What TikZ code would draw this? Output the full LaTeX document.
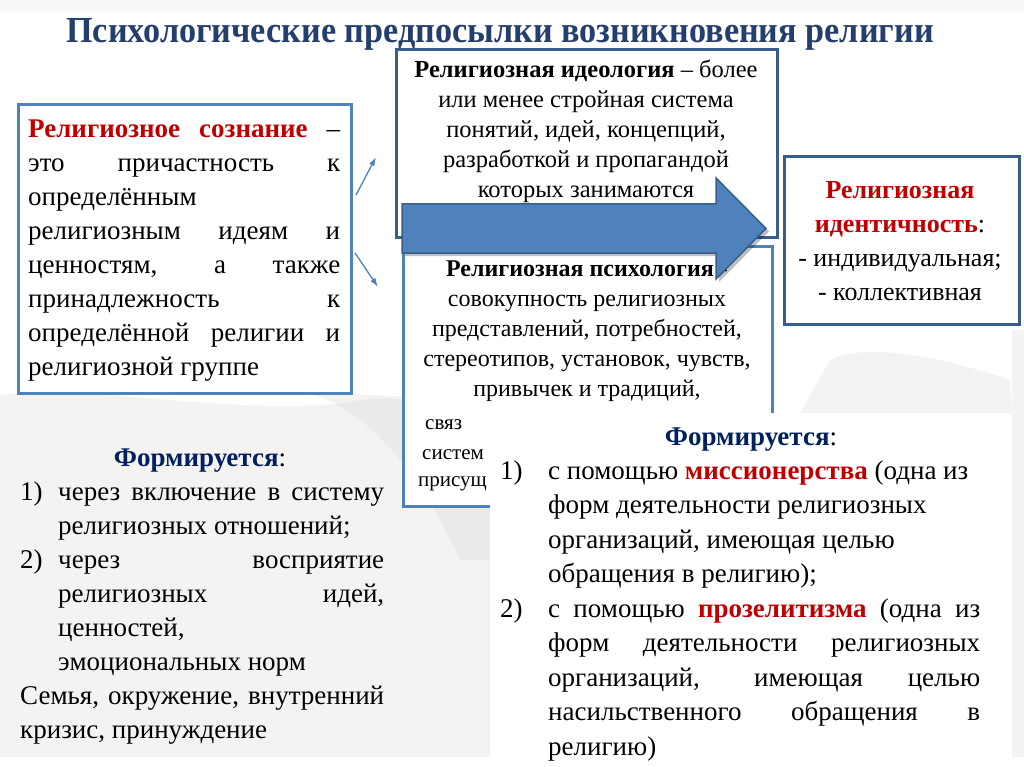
\documentclass[tikz,border=0pt]{standalone}
\usepackage{fontspec}
\setmainfont{Liberation Serif}
\usetikzlibrary{arrows.meta}
\definecolor{lblue}{RGB}{79,129,189}
\definecolor{dblue}{RGB}{56,93,138}
\definecolor{redt}{RGB}{192,0,0}
\definecolor{navy}{RGB}{0,32,96}
\definecolor{titlec}{RGB}{36,62,110}
\definecolor{bgtex}{RGB}{200,198,192}
\newcommand{\SL}[2]{\makebox[#1][s]{#2}}
\newcommand{\LL}[2]{\makebox[#1][l]{#2}}
\tikzset{
  lbox/.style={draw=lblue, line width=3pt, fill=white, inner sep=0, anchor=north west},
  dbox/.style={draw=dblue, line width=3pt, fill=white, inner sep=0, anchor=north west},
  txt/.style={inner sep=0, align=left, anchor=base west},
  ctxt/.style={inner sep=0, align=center, anchor=base},
  blob/.style={fill=bgtex, opacity=0.2},
  thin arrow/.style={draw=lblue, line width=1.3pt, -{Latex[length=9pt,width=6pt]}},
}
\begin{document}
\begin{tikzpicture}[x=1pt,y=-1pt]
\useasboundingbox (0,0) rectangle (1024,767);
\fill[white] (0,0) rectangle (1024,767);
% faint background texture
\fill[blob] (0,395) .. controls (120,385) and (260,420) .. (360,400) .. controls (430,390) and (480,430) .. (490,470) -- (490,757) -- (0,757) -- cycle;
\fill[blob] (300,392) .. controls (360,400) and (420,470) .. (460,560) -- (490,560) -- (490,400) -- cycle;
\fill[blob] (830,360) .. controls (860,345) and (920,350) .. (1010,380) -- (1012,413) -- (800,413) -- cycle;
\fill[blob] (1012,330) rectangle (1024,757);
\fill[bgtex, opacity=0.12] (0,0) rectangle (1024,12);
% title
\node[inner sep=0, text=titlec, font=\fontsize{36}{40}\selectfont\bfseries] (title) at (500,34) {\scalebox{0.95}[1.02]{Психологические предпосылки возникновения религии}};
% boxes
\node[lbox, minimum width=333pt, minimum height=289pt] (cons) at (17,103) {};
\node[dbox, minimum width=381pt, minimum height=188pt] (ideo) at (395,48) {};
\node[lbox, minimum width=369pt, minimum height=260pt] (psy) at (402,245) {};
\node[dbox, minimum width=235pt, minimum height=168pt] (ident) at (783,155) {};
% left box text (anchor = baseline of last line)
\node[txt, font=\fontsize{27}{34}\selectfont] (constxt) at (28,375) {%
\SL{312pt}{\textcolor{redt}{\textbf{Религиозное сознание}} –}\\
\SL{312pt}{это причастность к}\\
\LL{312pt}{определённым}\\
\SL{312pt}{религиозным идеям и}\\
\SL{312pt}{ценностям, а также}\\
\SL{312pt}{принадлежность к}\\
\SL{312pt}{определённой религии и}\\
\LL{312pt}{религиозной группе}};
% ideology text
\node[ctxt, font=\fontsize{24.5}{30}\selectfont] (ideotxt) at (586,198) {%
\textbf{Религиозная идеология} – более\\
или менее стройная система\\
понятий, идей, концепций,\\
разработкой и пропагандой\\
которых занимаются};
% psychology text
\node[ctxt, font=\fontsize{24}{30}\selectfont] (psytxt) at (587,396) {%
\textbf{Религиозная психология} -\\
совокупность религиозных\\
представлений, потребностей,\\
стереотипов, установок, чувств,\\
привычек и традиций,};
\node[txt, font=\fontsize{21}{30}\selectfont] (frag1) at (425,429) {связ};
\node[txt, font=\fontsize{21}{30}\selectfont] (frag2) at (422,459) {систем};
\node[txt, font=\fontsize{21}{30}\selectfont] (frag3) at (418,486) {присущ};
% big arrow
\fill[black, opacity=0.25] (405,207) -- (719,207) -- (719,181) -- (769,231.5) -- (719,282) -- (719,256) -- (405,256) -- cycle;
\filldraw[fill=lblue, draw=dblue, line width=1.5pt] (402,204) -- (716,204) -- (716,178) -- (766,228.5) -- (716,279) -- (716,253) -- (402,253) -- cycle;
% identity text
\node[ctxt, font=\fontsize{26}{34}\selectfont] (identtxt) at (900,300) {%
\textcolor{redt}{\textbf{Религиозная}}\\
\textcolor{redt}{\textbf{идентичность}}:\\
- индивидуальная;\\
- коллективная};
% small arrows
\coordinate (a1s) at (356,195);
\coordinate (a1e) at (376,157);
\coordinate (a2s) at (355,253);
\coordinate (a2e) at (378,287);
\draw[thin arrow] (a1s) -- (a1e);
\draw[thin arrow] (a2s) -- (a2e);
% bottom-left
\node[ctxt, font=\fontsize{27}{34}\selectfont] (form1) at (200,466) {\textcolor{navy}{\textbf{Формируется}}:};
\node[txt, font=\fontsize{27}{34}\selectfont] (n1) at (20,500) {1)};
\node[txt, font=\fontsize{27}{34}\selectfont] (n2) at (20,568) {2)};
\node[txt, font=\fontsize{27}{34}\selectfont] (list1) at (58,670) {%
\SL{326pt}{через включение в систему}\\
\LL{326pt}{религиозных отношений;}\\
\SL{326pt}{через восприятие}\\
\SL{326pt}{религиозных идей,}\\
\LL{326pt}{ценностей,}\\
\LL{326pt}{эмоциональных норм}};
\node[txt, font=\fontsize{27}{34}\selectfont] (fam) at (20,738) {%
\SL{364pt}{Семья, окружение, внутренний}\\
\LL{364pt}{кризис, принуждение}};
% bottom-right white panel
\node[fill=white, inner sep=0, anchor=north west, minimum width=522pt, minimum height=352pt] (panel) at (490,413) {};
\node[ctxt, font=\fontsize{27}{34}\selectfont] (form2) at (751,445) {\textcolor{navy}{\textbf{Формируется}}:};
\node[txt, font=\fontsize{27}{34}\selectfont] (m1) at (500,479) {1)};
\node[txt, font=\fontsize{27}{34}\selectfont] (m2) at (500,617) {2)};
\node[txt, font=\fontsize{27}{34.5}\selectfont] (list2) at (548,755) {%
\LL{432pt}{с помощью \textcolor{redt}{\textbf{миссионерства}} (одна из}\\
\LL{432pt}{форм деятельности религиозных}\\
\LL{432pt}{организаций, имеющая целью}\\
\LL{432pt}{обращения в религию);}\\
\SL{432pt}{с помощью \textcolor{redt}{\textbf{прозелитизма}} (одна из}\\
\SL{432pt}{форм деятельности религиозных}\\
\SL{432pt}{организаций, имеющая целью}\\
\SL{432pt}{насильственного обращения в}\\
\LL{432pt}{религию)}};
\end{tikzpicture}
\end{document}
